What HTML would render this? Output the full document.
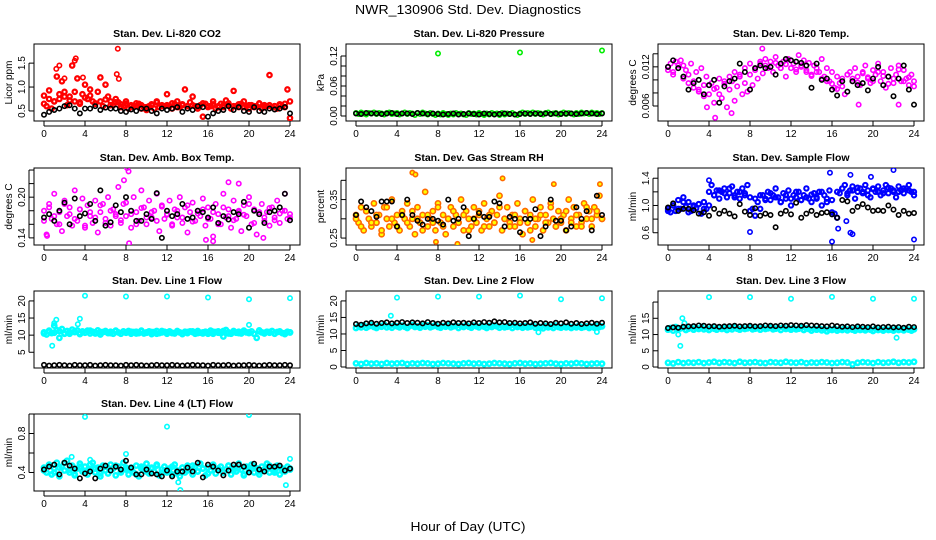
<!DOCTYPE html>
<html><head><meta charset="utf-8"><style>
html,body{margin:0;padding:0;background:#fff}
svg{display:block;font-family:"Liberation Sans",sans-serif}
</style></head><body>
<svg id="chart" width="936" height="540" viewBox="0 0 936 540">
<text x="468" y="14" text-anchor="middle" font-size="13" textLength="226" lengthAdjust="spacingAndGlyphs">NWR_130906  Std. Dev. Diagnostics</text>
<text x="468" y="531" text-anchor="middle" font-size="13" textLength="115" lengthAdjust="spacingAndGlyphs">Hour of Day (UTC)</text>
</svg>
<script>
const hourTicks=[0,4,8,12,16,20,24];
const co2Red=[0.82,0.6,0.93,0.55,0.7,1.22,0.75,1.12,0.9,0.62,0.8,1.45,0.7,1.18,0.65,0.85,1.05,0.75,0.95,0.7,0.65,0.9,1.2,0.6,1.05,0.8,0.7,0.62,0.75,0.68,0.58,0.6,0.65,0.55,0.62,0.58,0.6,0.65,0.55,0.58,0.52,0.6,0.62,0.55,0.7,0.58,0.62,0.6,0.85,0.6,0.55,0.65,0.7,0.58,0.62,0.95,0.6,0.68,0.8,0.6,0.55,0.62,0.38,0.65,0.58,0.6,0.7,0.55,0.6,0.65,0.58,0.72,0.62,0.55,0.92,0.6,0.58,0.65,0.7,0.6,0.55,0.62,0.58,0.6,0.65,0.55,0.62,0.6,1.25,0.58,0.6,0.55,0.62,0.6,0.65,0.95,0.35];
const co2Red2=[0.65,0.75,0.7,0.85,0.8,0.72,0.9,0.68,0.78,0.82,0.66,0.7,0.74,0.62,0.68,0.64,0.7,0.6,0.66,0.62,0.58,0.64,0.68,0.6,0.62,0.66,0.58,0.64,0.6,0.62,0.56,0.66,0.6,0.64,0.58,0.62,0.66,0.6,0.64,0.58,0.62,0.6,0.66,0.58,0.62,0.6,0.64,0.58,0.7];
const co2Out=[[1.2,1.38],[1.5,1.45],[3,1.55],[3.1,1.6],[7.2,1.8],[7.1,1.27],[7.3,1.17],[3.8,1.2],[2,1.18]];
const co2Black=[0.42,0.48,0.52,0.55,0.6,0.62,0.55,0.45,0.55,0.55,0.6,0.52,0.57,0.55,0.55,0.5,0.48,0.53,0.5,0.55,0.55,0.5,0.45,0.55,0.52,0.55,0.58,0.48,0.55,0.52,0.6,0.58,0.38,0.45,0.5,0.52,0.6,0.52,0.58,0.5,0.48,0.58,0.5,0.48,0.55,0.53,0.55,0.58,0.45];
const presGreen=[0.006,0.004,0.007,0.005,0.003,0.006,0.005,0.007,0.004,0.006,0.005,0.003,0.006,0.007,0.004,0.005,0.006,0.003,0.005,0.007,0.004,0.006,0.005,0.002,0.006,0.004,0.007,0.005,0.003,0.006,0.004,0.002,0.005,0.003,0.006,0.004,0.002,0.005,0.003,0.006,0.004,0.005,0.003,0.002,0.006,0.004,0.005,0.003,0.006,0.004,0.002,0.005,0.003,0.006,0.004,0.005,0.002,0.006,0.003,0.005,0.004,0.006,0.003,0.002,0.005,0.007,0.004,0.006,0.005,0.007,0.004,0.006,0.005,0.003,0.006,0.007,0.004,0.005,0.006,0.003,0.005,0.007,0.004,0.006,0.005,0.003,0.006,0.004,0.007,0.005,0.006,0.004,0.007,0.005,0.006,0.004,0.006];
const presOut=[[8,0.125],[16,0.127],[24,0.131]];
const presBlack=[0.005,0.004,0.006,0.005,0.005,0.004,0.005,0.006,0.004,0.005,0.005,0.004,0.006,0.005,0.004,0.005,0.004,0.003,0.004,0.005,0.003,0.004,0.005,0.004,0.003,0.005,0.004,0.003,0.004,0.005,0.004,0.003,0.004,0.005,0.004,0.005,0.004,0.005,0.004,0.005,0.004,0.005,0.005,0.004,0.005,0.006,0.005,0.004,0.005];
const tempMag=[0.012,0.0125,0.0112,0.0128,0.0118,0.013,0.0122,0.0115,0.0108,0.0125,0.0098,0.0112,0.0085,0.0118,0.0092,0.0105,0.0078,0.0095,0.0065,0.0088,0.0102,0.0072,0.0094,0.0058,0.0085,0.0098,0.0068,0.009,0.0105,0.0078,0.0095,0.0082,0.0108,0.0092,0.0118,0.0102,0.0125,0.011,0.0132,0.0118,0.0128,0.0112,0.0135,0.0122,0.0118,0.0128,0.0105,0.0132,0.0118,0.0125,0.0112,0.0138,0.012,0.013,0.0115,0.0126,0.0108,0.0122,0.0118,0.0112,0.0132,0.0105,0.0118,0.0098,0.0112,0.0088,0.0105,0.0095,0.0102,0.0078,0.0108,0.0112,0.0098,0.0118,0.0105,0.0092,0.0112,0.0122,0.0102,0.0095,0.0115,0.0108,0.0125,0.0098,0.0112,0.0088,0.0105,0.0118,0.0095,0.0108,0.0122,0.0098,0.0115,0.0102,0.0092,0.0108,0.0098];
const tempMag2=[0.0115,0.0108,0.0122,0.0102,0.0095,0.0088,0.0082,0.0075,0.0092,0.0086,0.0078,0.0098,0.0105,0.0112,0.0108,0.0118,0.0125,0.0115,0.0128,0.0122,0.012,0.0126,0.0118,0.0124,0.013,0.0116,0.0122,0.0112,0.0106,0.0112,0.0102,0.0098,0.0094,0.0086,0.009,0.0108,0.0102,0.0096,0.011,0.0104,0.0098,0.0112,0.0106,0.0094,0.0102,0.0116,0.0098,0.0104,0.009];
const tempOut=[[4.6,0.0042],[3.8,0.0058],[6.2,0.0049],[18.6,0.0062],[22.5,0.0062],[9.2,0.0148]];
const tempBlack=[0.012,0.013,0.0118,0.0105,0.0085,0.0095,0.01,0.0078,0.0092,0.01,0.0065,0.009,0.0098,0.0102,0.0125,0.0112,0.0085,0.0118,0.0122,0.0118,0.012,0.0108,0.0125,0.0132,0.013,0.0128,0.0126,0.0122,0.0088,0.0125,0.01,0.0102,0.0085,0.0076,0.0098,0.0082,0.0098,0.0092,0.0095,0.0084,0.0102,0.012,0.0092,0.0105,0.0075,0.0102,0.0122,0.0085,0.0062];
const ambMag=[0.18,0.145,0.19,0.168,0.205,0.16,0.178,0.15,0.195,0.172,0.185,0.158,0.21,0.165,0.182,0.198,0.155,0.188,0.172,0.162,0.195,0.148,0.178,0.19,0.168,0.2,0.158,0.182,0.175,0.215,0.162,0.19,0.172,0.238,0.155,0.2,0.178,0.165,0.21,0.185,0.16,0.195,0.17,0.18,0.205,0.15,0.188,0.168,0.175,0.195,0.158,0.182,0.17,0.2,0.162,0.185,0.148,0.178,0.192,0.165,0.18,0.172,0.198,0.158,0.185,0.168,0.142,0.19,0.175,0.16,0.205,0.17,0.182,0.155,0.195,0.168,0.178,0.15,0.188,0.172,0.2,0.16,0.182,0.145,0.175,0.19,0.165,0.178,0.158,0.185,0.17,0.195,0.162,0.18,0.205,0.168,0.175];
const ambMag2=[0.165,0.185,0.172,0.16,0.19,0.175,0.168,0.182,0.158,0.178,0.17,0.188,0.162,0.18,0.172,0.166,0.192,0.175,0.16,0.184,0.17,0.178,0.165,0.186,0.174,0.16,0.18,0.17,0.188,0.164,0.176,0.182,0.168,0.178,0.16,0.185,0.172,0.166,0.18,0.174,0.19,0.162,0.178,0.17,0.184,0.166,0.176,0.18,0.17];
const ambOut=[[8.1,0.243],[7.8,0.225],[18,0.222],[19,0.22],[8.3,0.132],[15.8,0.137],[16.5,0.135],[21.4,0.14],[0.3,0.143]];
const ambBlack=[0.17,0.175,0.165,0.18,0.192,0.16,0.198,0.172,0.176,0.19,0.165,0.21,0.158,0.163,0.188,0.178,0.2,0.18,0.165,0.165,0.175,0.168,0.206,0.14,0.18,0.172,0.175,0.19,0.168,0.17,0.18,0.178,0.17,0.185,0.162,0.172,0.167,0.178,0.175,0.193,0.155,0.18,0.175,0.162,0.178,0.18,0.185,0.205,0.166];
const rhYel=[0.31,0.29,0.33,0.27,0.32,0.3,0.28,0.34,0.29,0.31,0.26,0.33,0.3,0.28,0.35,0.29,0.31,0.27,0.32,0.3,0.34,0.28,0.3,0.26,0.33,0.29,0.31,0.37,0.28,0.3,0.32,0.27,0.34,0.29,0.31,0.26,0.3,0.33,0.28,0.31,0.29,0.35,0.27,0.32,0.3,0.28,0.33,0.29,0.31,0.27,0.34,0.3,0.28,0.32,0.29,0.31,0.36,0.27,0.3,0.33,0.29,0.31,0.28,0.34,0.3,0.26,0.32,0.29,0.31,0.35,0.28,0.3,0.33,0.27,0.31,0.29,0.34,0.3,0.28,0.32,0.29,0.31,0.27,0.35,0.3,0.33,0.28,0.31,0.29,0.34,0.3,0.32,0.28,0.33,0.31,0.36,0.3];
const rhYel2=[0.3,0.28,0.32,0.29,0.31,0.27,0.33,0.3,0.28,0.31,0.29,0.32,0.3,0.27,0.31,0.29,0.33,0.28,0.3,0.32,0.29,0.31,0.27,0.3,0.32,0.28,0.31,0.29,0.33,0.3,0.28,0.31,0.29,0.32,0.27,0.3,0.31,0.29,0.33,0.28,0.3,0.32,0.29,0.31,0.28,0.33,0.3,0.32,0.3];
const rhOut=[[5.5,0.42],[5.8,0.415],[14.3,0.405],[19.3,0.39],[23.8,0.39],[7.8,0.24],[9.9,0.235],[17.2,0.245]];
const rhBlack=[0.31,0.345,0.33,0.32,0.305,0.345,0.345,0.345,0.28,0.31,0.35,0.31,0.295,0.285,0.3,0.3,0.295,0.285,0.35,0.295,0.3,0.33,0.255,0.3,0.315,0.305,0.305,0.345,0.34,0.28,0.305,0.3,0.265,0.3,0.3,0.325,0.255,0.28,0.35,0.295,0.295,0.27,0.28,0.33,0.3,0.32,0.27,0.36,0.31];
const flowBlue=[0.95,0.9,1.0,0.92,1.08,0.95,1.12,0.98,1.05,0.92,1.0,0.96,1.02,0.88,1.05,0.95,1.0,1.3,1.15,1.22,1.1,1.2,1.25,1.12,1.18,1.28,1.15,1.2,1.1,1.25,1.18,1.3,1.12,0.95,0.85,1.05,0.95,1.15,1.1,1.2,1.08,1.15,1.25,1.12,1.05,1.18,1.1,1.22,1.0,1.15,1.12,1.2,1.08,1.15,1.25,1.1,1.05,1.18,1.12,1.2,1.0,1.15,1.1,1.22,1.08,0.88,0.82,1.18,1.25,1.3,1.15,1.22,1.28,1.1,1.2,1.25,1.18,1.3,1.22,1.12,1.25,1.2,1.28,1.15,1.22,1.3,1.18,1.25,1.2,1.12,1.28,1.22,1.18,1.25,1.3,1.2,1.15];
const flowBlue2=[0.92,1.0,0.95,1.05,0.9,0.98,1.02,0.95,1.2,1.15,1.22,1.18,1.25,1.12,1.2,1.15,0.92,1.1,1.15,1.08,1.18,1.12,1.05,1.15,1.1,1.2,1.08,1.12,1.16,1.1,1.2,1.05,0.9,1.2,1.25,1.18,1.22,1.26,1.2,1.15,1.24,1.2,1.18,1.26,1.22,1.2,1.25,1.22,1.2];
const flowOut=[[4,1.37],[15.8,1.48],[22,1.52],[17.8,1.45],[19.8,1.42],[8,0.61],[16,0.47],[24,0.5],[16.6,0.66],[17.4,0.77],[17.8,0.6],[18,0.58]];
const flowBlack=[0.97,1.03,0.92,0.95,0.95,0.93,0.88,0.9,0.85,0.95,0.88,0.92,0.88,0.84,1.02,0.91,0.86,0.96,0.85,0.88,0.86,0.68,0.88,0.92,0.87,1.04,0.82,0.88,0.92,0.86,0.89,0.9,0.87,0.82,1.08,1.06,0.92,0.98,1.02,0.97,0.92,0.93,0.92,1.0,0.94,0.86,0.92,0.88,0.89];
const l1Cyan=[10.8,10.2,11.3,10.6,12.8,11.5,9.2,11.8,10.5,11.2,10.4,11.6,10.9,11.4,10.3,11.1,10.7,11.3,10.5,11.0,10.8,11.4,10.2,10.9,11.2,10.6,11.0,10.4,11.3,10.8,10.5,11.1,10.7,11.2,10.4,10.9,11.0,10.6,11.3,10.5,10.8,11.1,10.3,10.9,11.2,10.6,10.8,11.0,10.4,11.1,10.7,10.5,11.2,10.8,10.3,11.0,10.6,11.1,10.9,10.4,11.2,10.7,10.5,11.0,10.8,11.3,10.4,10.9,11.1,10.6,9.6,11.5,10.8,10.4,11.2,10.7,11.0,10.5,11.3,10.8,10.6,11.1,10.4,9.2,11.4,10.8,10.5,11.0,10.7,11.2,10.4,10.9,11.1,10.6,10.3,11.0,10.8];
const l1Cyan2=[10.5,11.0,10.7,11.2,10.4,10.9,11.1,10.6,10.8,11.3,10.5,10.9,11.0,10.6,11.2,10.4,10.8,11.0,10.5,11.1,10.7,10.9,10.4,11.2,10.8,10.6,11.0,10.5,10.9,11.1,10.6,10.8,10.4,11.0,10.7,11.2,10.5,10.9,10.6,11.0,10.8,10.4,11.1,10.7,10.9,10.5,11.0,10.6,10.8];
const l1Out=[[4,21.5],[8,21.3],[12,21.3],[16,21],[20,20.5],[24,20.8],[20,13],[1.2,14.5],[3.5,14.8],[0.8,6.9],[3.3,13.2],[1,13.5]];
const l1Black=[1.3,1.1,1.2,1.3,1.2,1.1,1.3,1.2,1.2,1.3,1.1,1.2,1.3,1.2,1.2,1.1,1.3,1.2,1.3,1.2,1.1,1.2,1.3,1.2,1.2,1.3,1.2,1.1,1.2,1.3,1.2,1.2,1.1,1.3,1.2,1.2,1.3,1.1,1.2,1.2,1.3,1.2,1.1,1.2,1.3,1.2,1.2,1.3,1.2];
const l2Cyan=[11.8,12.4,12.0,12.6,11.9,12.3,12.7,12.1,11.8,12.5,12.2,12.8,12.0,12.4,11.9,12.6,12.3,12.0,12.5,12.2,11.8,12.4,12.7,12.1,12.3,11.9,12.5,12.2,12.6,12.0,12.3,12.7,12.1,11.9,12.4,12.2,12.6,12.0,12.3,12.5,11.8,12.4,12.1,12.7,12.2,11.9,12.5,12.3,12.0,12.6,12.2,11.8,12.4,12.1,12.5,12.3,11.9,12.6,12.0,12.2,12.4,11.8,12.5,12.1,12.3,11.9,12.4,12.0,12.2,12.6,11.9,12.3,12.1,11.7,12.4,12.0,12.2,11.8,12.5,12.1,11.9,12.3,12.0,12.4,11.8,12.2,12.0,12.5,11.9,12.1,12.3,11.8,12.2,11.9,12.4,12.1,12.3];
const l2Low=[1.1,0.9,1.2,1.0,1.1,0.9,1.2,1.0,1.1,1.2,0.9,1.1,1.0,1.2,1.1,0.9,1.0,1.2,1.1,1.0,0.9,1.1,1.2,1.0,1.1,0.9,1.0,1.2,1.1,1.0,0.9,1.1,1.2,1.0,1.1,0.9,1.0,1.1,1.2,1.0,0.9,1.1,1.0,1.2,1.1,0.9,1.0,1.1,1.0];
const l2Out=[[3.4,15.5],[4,21],[8,21.3],[12,21.3],[16,21.6],[20,20.5],[24,20.8],[17.8,10.5],[23.5,10.6]];
const l2Black=[13.0,12.8,13.2,13.4,13.1,13.3,13.5,13.2,13.4,13.6,13.3,13.5,13.4,13.2,13.6,13.3,13.1,13.4,13.2,13.5,13.3,13.4,13.2,13.5,13.3,13.6,13.4,13.8,13.5,13.6,13.3,13.4,13.2,13.3,13.5,13.1,13.3,13.2,13.0,13.4,13.2,13.5,13.1,13.3,13.0,13.2,13.4,13.1,13.4];
const l3Cyan=[11.5,12.0,11.2,12.3,11.6,11.9,12.2,11.4,11.8,12.1,11.5,12.0,11.7,12.3,11.6,11.9,11.4,12.1,11.8,11.5,12.2,11.7,11.9,11.4,12.0,11.6,12.2,11.8,11.5,12.1,11.7,11.9,12.3,11.6,11.8,12.0,11.5,12.2,11.7,11.9,12.1,11.6,11.8,12.0,11.4,12.2,11.7,11.9,11.5,12.0,11.6,11.8,12.1,11.4,11.9,11.7,11.2,11.8,11.5,11.9,11.3,11.7,11.0,11.6,11.4,11.8,11.2,11.6,11.4,11.9,11.3,11.7,11.5,11.2,11.8,11.4,11.6,11.3,11.7,11.5,11.1,11.8,11.4,11.6,11.2,11.7,11.4,11.5,11.2,11.8,11.4,11.6,11.3,11.7,11.5,11.2,11.6];
const l3Low=[1.3,1.1,1.5,1.2,1.4,1.3,1.5,1.2,1.4,1.6,1.3,1.5,1.4,1.2,1.6,1.3,1.4,1.5,1.3,1.2,1.5,1.4,1.3,1.6,1.4,1.3,1.5,1.2,1.4,1.3,1.5,1.4,1.2,1.3,1.5,1.4,0.8,1.3,1.5,1.4,1.2,1.5,1.3,1.4,1.6,1.3,1.5,1.4,1.6];
const l3Out=[[1.2,6.5],[1.0,10],[1.4,15],[1.6,13.5],[4,21.5],[8,21.5],[12,21],[16,21.6],[20,21],[24,21],[22.3,9]];
const l3Black=[12.0,12.2,12.1,12.4,12.5,12.6,12.8,12.7,12.5,12.6,12.4,12.5,12.6,12.7,12.5,12.6,12.7,12.5,12.6,12.8,12.7,12.6,12.8,12.7,12.9,12.8,12.7,12.9,12.8,12.7,12.6,12.5,12.8,12.6,12.4,12.5,12.3,12.5,12.4,12.3,12.5,12.2,12.3,12.4,12.2,12.3,12.1,12.4,12.3];
const l4Cyan=[0.45,0.4,0.48,0.38,0.44,0.5,0.36,0.46,0.42,0.52,0.4,0.47,0.37,0.44,0.49,0.41,0.46,0.38,0.43,0.5,0.4,0.45,0.36,0.47,0.42,0.39,0.48,0.44,0.37,0.46,0.41,0.5,0.43,0.38,0.45,0.4,0.47,0.36,0.44,0.42,0.49,0.39,0.45,0.41,0.47,0.37,0.43,0.46,0.4,0.44,0.38,0.48,0.42,0.36,0.45,0.4,0.47,0.43,0.38,0.46,0.41,0.49,0.44,0.37,0.45,0.42,0.48,0.39,0.44,0.46,0.4,0.43,0.47,0.38,0.45,0.41,0.49,0.43,0.37,0.46,0.42,0.48,0.4,0.44,0.38,0.46,0.43,0.49,0.4,0.45,0.42,0.47,0.38,0.44,0.41,0.46,0.43];
const l4Cyan2=[0.42,0.47,0.4,0.45,0.5,0.43,0.38,0.46,0.41,0.48,0.44,0.39,0.46,0.42,0.47,0.4,0.45,0.43,0.38,0.46,0.41,0.44,0.48,0.4,0.43,0.46,0.39,0.45,0.42,0.47,0.41,0.44,0.39,0.46,0.43,0.4,0.47,0.42,0.45,0.38,0.44,0.46,0.41,0.43,0.47,0.4,0.45,0.42,0.44];
const l4Out=[[4,0.97],[12,0.87],[20,0.99],[8,0.59],[13.3,0.22],[23.6,0.27],[2.7,0.56],[24,0.54],[13.1,0.3],[4.5,0.53]];
const l4Black=[0.43,0.46,0.48,0.38,0.5,0.47,0.44,0.34,0.39,0.41,0.34,0.44,0.47,0.42,0.46,0.43,0.52,0.45,0.38,0.38,0.43,0.39,0.38,0.36,0.42,0.36,0.41,0.41,0.45,0.41,0.5,0.35,0.48,0.46,0.42,0.37,0.42,0.48,0.48,0.46,0.4,0.49,0.43,0.41,0.46,0.46,0.47,0.42,0.44];

const NS="http://www.w3.org/2000/svg";
const svg=document.getElementById('chart');
function el(tag,attrs,parent){const e=document.createElementNS(NS,tag);for(const k in attrs)e.setAttribute(k,attrs[k]);(parent||svg).appendChild(e);return e;}
const colL=[34,346,658],rowT=[44,168,291,414],W=266,H=77;
function panel(col,row,title,ylab,ymin,ymax,ticks,labels,series){
  const L=colL[col],T=rowT[row];
  const g=el('g',{});
  
  
  const xs=h=>L+10+h/24*246;
  const ys=v=>T+H-(v-ymin)/(ymax-ymin)*H;
  const tt=el('text',{x:L+W/2,y:T-7,'text-anchor':'middle','font-size':'10.5','font-weight':'bold'},g);
  
  
  tt.textContent=title;
  const box=el('rect',{x:L,y:T,width:W,height:H,fill:'none',stroke:'#000','stroke-width':1},g);
  
  
  hourTicks.forEach(h=>{
    el('line',{x1:xs(h),x2:xs(h),y1:T+H,y2:T+H+5,stroke:'#000'},g);
    const t=el('text',{x:xs(h),y:T+H+16,'text-anchor':'middle','font-size':'10'},g);
    
    
    t.textContent=h;
  });
  el('line',{x1:xs(0),x2:xs(24),y1:T+H+5,y2:T+H+5,stroke:'#000'},g);
  ticks.forEach(v=>{el('line',{x1:L-5,x2:L,y1:ys(v),y2:ys(v),stroke:'#000'},g);});
  el('line',{x1:L-5,x2:L-5,y1:ys(ticks[0]),y2:ys(ticks[ticks.length-1]),stroke:'#000'},g);
  labels.forEach(v=>{
    const t=el('text',{x:0,y:0,'text-anchor':'middle','font-size':'10',transform:`translate(${L-9},${ys(v)}) rotate(-90)`},g);
    
    
    t.textContent=v;
  });
  const yl=el('text',{x:0,y:0,'text-anchor':'middle','font-size':'10',transform:`translate(${L-22},${T+H/2}) rotate(-90)`},g);
  
  
  yl.textContent=ylab;
  const clip='c'+col+row;
  const cp=el('clipPath',{id:clip},g);el('rect',{x:L,y:T,width:W,height:H},cp);
  const pg=el('g',{'clip-path':`url(#${clip})`},g);
  series.forEach(s=>{
    const pts=s.pts||s.vals.map((v,i)=>[i*24/(s.vals.length-1),v]);
    pts.forEach(p=>{
      const c=el('circle',{cx:xs(p[0]),cy:ys(p[1]),r:s.r||2.2,fill:s.fill||'none',stroke:s.color,'stroke-width':s.sw||1.6},pg);
      
      
    });
  });
}
const R='#ff0000',G='#00ee00',M='#ff00ff',B='#0000ff',C='#00ffff',K='#000';
panel(0,0,'Stan. Dev. Li-820 CO2','Licor ppm',0.29,1.9,[0.5,1.0,1.5],['0.5','1.0','1.5'],
 [{vals:co2Red,color:R,name:'co2-point',sw:2.2},{vals:co2Red2,color:R,name:'co2-point',sw:2.2},{pts:co2Out,color:R,name:'co2-outlier'},{vals:co2Black,color:K,name:'co2-black-point'}]);
panel(1,0,'Stan. Dev. Li-820 Pressure','kPa',-0.01,0.144,[0,0.02,0.04,0.06,0.08,0.10,0.12],['0.00','0.06','0.12'],
 [{vals:presGreen,color:G,name:'pressure-point'},{pts:presOut,color:G,name:'pressure-outlier'},{vals:presBlack,color:K,name:'pressure-black-point'}]);
panel(2,0,'Stan. Dev. Li-820 Temp.','degrees C',0.0037,0.0155,[0.006,0.008,0.010,0.012,0.014],['0.006','0.012'],
 [{vals:tempMag,color:M,name:'temp-point'},{vals:tempMag2,color:M,name:'temp-point'},{pts:tempOut,color:M,name:'temp-outlier'},{vals:tempBlack,color:K,name:'temp-black-point'}]);
panel(0,1,'Stan. Dev. Amb. Box Temp.','degrees C',0.1295,0.243,[0.14,0.16,0.18,0.20,0.22,0.24],['0.14','0.20'],
 [{vals:ambMag,color:M,name:'ambtemp-point'},{vals:ambMag2,color:M,name:'ambtemp-point'},{pts:ambOut,color:M,name:'ambtemp-outlier'},{vals:ambBlack,color:K,name:'ambtemp-black-point'}]);
panel(1,1,'Stan. Dev. Gas Stream RH','percent',0.232,0.432,[0.25,0.30,0.35,0.40],['0.25','0.35'],
 [{vals:rhYel,color:'#ff6a00',fill:'#ffff00',name:'rh-point',r:2.6},{vals:rhYel2,color:'#ff6a00',fill:'#ffff00',name:'rh-point',r:2.6},{pts:rhOut,color:'#ff6a00',fill:'#ffff00',name:'rh-outlier'},{vals:rhBlack,color:K,name:'rh-black-point'}]);
panel(2,1,'Stan. Dev. Sample Flow','ml/min',0.42,1.55,[0.6,0.8,1.0,1.2,1.4],['0.6','1.0','1.4'],
 [{vals:flowBlue,color:B,name:'flow-point',sw:2},{vals:flowBlue2,color:B,name:'flow-point',sw:2},{pts:flowOut,color:B,name:'flow-outlier'},{vals:flowBlack,color:K,name:'flow-black-point'}]);
panel(0,2,'Stan. Dev. Line 1 Flow','ml/min',0.4,22.9,[5,10,15,20],['5','10','15','20'],
 [{vals:l1Cyan,color:C,name:'line1-point',sw:2.4},{vals:l1Cyan2,color:C,name:'line1-point',sw:2.4},{pts:l1Out,color:C,name:'line1-outlier'},{vals:l1Black,color:K,name:'line1-black-point'}]);
panel(1,2,'Stan. Dev. Line 2 Flow','ml/min',-0.3,23,[0,5,10,15,20],['0','5','10','15','20'],
 [{vals:l2Cyan,color:C,name:'line2-point',sw:2.4},{vals:l2Low,color:C,name:'line2-low-point',sw:2.4},{pts:l2Out,color:C,name:'line2-outlier'},{vals:l2Black,color:K,name:'line2-black-point'}]);
panel(2,2,'Stan. Dev. Line 3 Flow','ml/min',-0.3,23.4,[0,5,10,15,20],['0','5','10','15'],
 [{vals:l3Cyan,color:C,name:'line3-point',sw:2.4},{vals:l3Low,color:C,name:'line3-low-point',sw:2.4},{pts:l3Out,color:C,name:'line3-outlier'},{vals:l3Black,color:K,name:'line3-black-point'}]);
panel(0,3,'Stan. Dev. Line 4 (LT) Flow','ml/min',0.21,1.0,[0.4,0.6,0.8,1.0],['0.4','0.8'],
 [{vals:l4Cyan,color:C,name:'line4-point',sw:2.4},{vals:l4Cyan2,color:C,name:'line4-point',sw:2.4},{pts:l4Out,color:C,name:'line4-outlier'},{vals:l4Black,color:K,name:'line4-black-point'}]);
</script>
</body></html>
